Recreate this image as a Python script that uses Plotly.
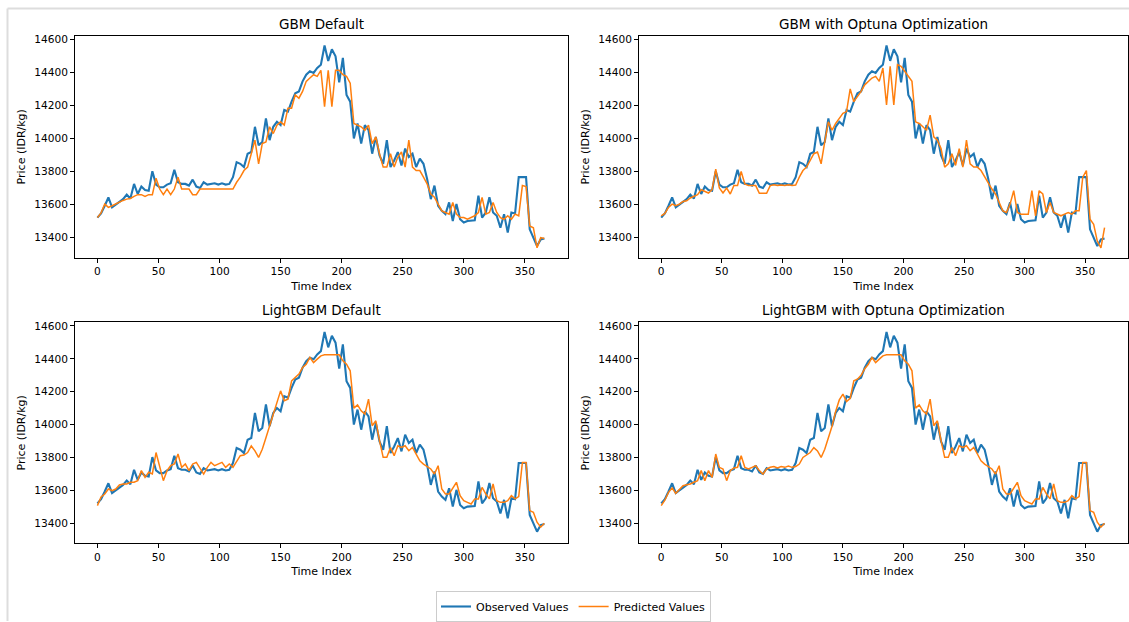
import plotly.graph_objects as go
from plotly.subplots import make_subplots

# ---------------- data ----------------
TIME_INDEX = list(range(0, 367, 3))

OBSERVED = [
    13521, 13546, 13593, 13643, 13583, 13600, 13619, 13633, 13660, 13637,
    13725, 13664, 13709, 13688, 13684, 13802, 13721, 13705, 13705, 13721,
    13729, 13810, 13735, 13725, 13725, 13715, 13751, 13709, 13700, 13735,
    13721, 13725, 13729, 13721, 13729, 13721, 13725, 13766, 13857, 13847,
    13827, 13908, 13918, 14071, 13959, 13979, 14122, 13990, 14071, 14101,
    14081, 14173, 14163, 14223, 14274, 14285, 14346, 14386, 14407, 14397,
    14427, 14447, 14563, 14470, 14540, 14498, 14340, 14488, 14264, 14223,
    14000, 14091, 13969, 14081, 14050, 13908, 14010, 13898, 13847, 13990,
    13827, 13867, 13918, 13837, 13939, 13888, 13908, 13827, 13878, 13847,
    13755, 13633, 13715, 13593, 13562, 13542, 13613, 13501, 13603, 13511,
    13491, 13501, 13501, 13505, 13654, 13521, 13552, 13644, 13552, 13532,
    13460, 13542, 13430, 13552, 13546, 13766, 13766, 13766, 13450, 13399,
    13349, 13389, 13395,
]

PRED_GBM_DEFAULT = [
    13521, 13550, 13603, 13583, 13593, 13605, 13615, 13625, 13633, 13637,
    13650, 13660, 13660, 13650, 13660, 13660, 13760, 13694, 13660, 13694,
    13660, 13694, 13766, 13694, 13694, 13694, 13660, 13660, 13694, 13694,
    13694, 13694, 13694, 13694, 13694, 13694, 13694, 13694, 13735, 13766,
    13806, 13827, 13908, 13990, 13847, 13969, 13979, 14071, 14030, 14081,
    14101, 14081, 14183, 14183, 14264, 14244, 14285, 14346, 14366, 14386,
    14376, 14413, 14193, 14413, 14193, 14413, 14413, 14386, 14376, 14335,
    14091, 14081, 14071, 14050, 14081, 13969, 14010, 13908, 13827, 13827,
    13908, 13827, 13888, 13918, 13827, 13990, 13827, 13806, 13806, 13766,
    13725, 13664, 13644, 13603, 13562, 13552, 13542, 13613, 13542, 13521,
    13521, 13511, 13521, 13532, 13552, 13644, 13542, 13552, 13613, 13552,
    13521, 13511, 13532, 13511, 13542, 13532, 13715, 13709, 13470, 13460,
    13338, 13400, 13395,
]

PRED_GBM_OPTUNA = [
    13531, 13546, 13583, 13603, 13593, 13603, 13619, 13623, 13640, 13650,
    13660, 13690, 13680, 13670, 13690, 13815, 13700, 13670, 13700, 13664,
    13715, 13715, 13800, 13725, 13715, 13715, 13715, 13668, 13668, 13668,
    13715, 13720, 13715, 13718, 13715, 13720, 13715, 13718, 13766, 13806,
    13827, 13867, 13908, 13918, 13847, 13979, 14101, 14050, 14091, 14122,
    14152, 14163, 14300, 14223, 14254, 14285, 14325, 14346, 14366, 14376,
    14346, 14427, 14203, 14437, 14203, 14447, 14437, 14407, 14376, 14346,
    14101, 14091, 14071, 14050, 14142, 14010, 13990, 13939, 13827, 13847,
    13908, 13837, 13939, 13827, 13990, 13847, 13827, 13827, 13806, 13766,
    13725, 13694, 13664, 13613, 13562, 13552, 13603, 13684, 13552, 13542,
    13542, 13542, 13684, 13532, 13684, 13664, 13552, 13613, 13552, 13542,
    13532, 13542, 13552, 13542, 13562, 13562, 13766, 13806, 13511, 13481,
    13379, 13338, 13460,
]

PRED_LGBM_DEFAULT = [
    13507, 13560, 13578, 13608, 13598, 13608, 13633, 13639, 13639, 13649,
    13649, 13659, 13720, 13679, 13710, 13700, 13830, 13740, 13659, 13720,
    13750, 13760, 13821, 13740, 13760, 13720, 13760, 13770, 13730, 13699,
    13740, 13770, 13750, 13760, 13770, 13740, 13760, 13740, 13780, 13811,
    13815, 13830, 13870, 13840, 13800, 13850, 13920, 13990, 14070, 14140,
    14205, 14145, 14155, 14266, 14286, 14307, 14347, 14367, 14408, 14377,
    14398, 14418, 14424, 14424, 14424, 14424, 14424, 14388, 14367, 14327,
    14100, 14120, 14084, 14064, 14155, 13993, 14023, 13902, 13801, 13801,
    13861, 13811, 13871, 13861, 13871, 13841, 13861, 13821, 13780, 13760,
    13744, 13730, 13699, 13750, 13608, 13578, 13578, 13618, 13649, 13568,
    13537, 13527, 13517, 13548, 13548, 13618, 13578, 13548, 13639, 13537,
    13527, 13527, 13537, 13568, 13548, 13562, 13770, 13770, 13477, 13467,
    13406, 13376, 13400,
]

PRED_LGBM_OPTUNA = [
    13507, 13540, 13588, 13614, 13582, 13608, 13628, 13634, 13639, 13649,
    13659, 13720, 13659, 13720, 13679, 13821, 13740, 13730, 13659, 13720,
    13736, 13740, 13811, 13740, 13730, 13740, 13750, 13720, 13699, 13730,
    13740, 13745, 13736, 13745, 13740, 13748, 13740, 13745, 13760, 13800,
    13815, 13830, 13860, 13840, 13800, 13850, 13920, 13990, 14080, 14150,
    14185, 14140, 14160, 14266, 14276, 14300, 14340, 14367, 14408, 14377,
    14398, 14418, 14424, 14424, 14424, 14424, 14424, 14388, 14367, 14327,
    14100, 14120, 14084, 14064, 14155, 13993, 14023, 13902, 13801, 13801,
    13861, 13811, 13871, 13861, 13871, 13841, 13861, 13821, 13780, 13760,
    13744, 13730, 13699, 13750, 13608, 13578, 13578, 13618, 13649, 13568,
    13537, 13527, 13517, 13548, 13548, 13618, 13578, 13548, 13639, 13537,
    13527, 13527, 13537, 13568, 13548, 13562, 13770, 13770, 13477, 13467,
    13406, 13376, 13400,
]

TITLES = [
    "GBM Default",
    "GBM with Optuna Optimization",
    "LightGBM Default",
    "LightGBM with Optuna Optimization",
]
X_TICKS = [0, 50, 100, 150, 200, 250, 300, 350]
Y_TICKS = [13400, 13600, 13800, 14000, 14200, 14400, 14600]

# ---------------- figure ----------------
W, H = 1129, 622
FONT = "DejaVu Sans"
BLUE = "#1f77b4"
ORANGE = "#ff7f0e"
TXT = 11
TICK = 10.6

fig = make_subplots(rows=2, cols=2)

panels = [(1, 1, PRED_GBM_DEFAULT), (1, 2, PRED_GBM_OPTUNA),
          (2, 1, PRED_LGBM_DEFAULT), (2, 2, PRED_LGBM_OPTUNA)]
for k, (r, c, pred) in enumerate(panels):
    fig.add_trace(go.Scatter(x=TIME_INDEX, y=OBSERVED, mode="lines",
                             line=dict(color=BLUE, width=2.1),
                             name="Observed Values", legendgroup="obs",
                             showlegend=(k == 0)), row=r, col=c)
    fig.add_trace(go.Scatter(x=TIME_INDEX, y=pred, mode="lines",
                             line=dict(color=ORANGE, width=1.5),
                             name="Predicted Values", legendgroup="pred",
                             showlegend=(k == 0)), row=r, col=c)

xdom = {1: [75 / W, 568 / W], 2: [639 / W, 1128 / W]}
ydom = {1: [1 - 258 / H, 1 - 36 / H], 2: [1 - 544 / H, 1 - 323 / H]}

axis_common = dict(showline=True, mirror=True, linecolor="black", linewidth=1,
                   ticks="outside", ticklen=4, tickwidth=1, tickcolor="black",
                   showgrid=False, zeroline=False, automargin=False,
                   tickfont=dict(family=FONT, size=TICK, color="black"))

for r in (1, 2):
    for c in (1, 2):
        fig.update_xaxes(domain=xdom[c], range=[-18.35, 385.35], tickvals=X_TICKS,
                         ticktext=[str(v) for v in X_TICKS],
                         title=dict(text="Time Index", standoff=5,
                                    font=dict(family=FONT, size=TXT, color="black")),
                         row=r, col=c, **axis_common)
        fig.update_yaxes(domain=ydom[r], range=[13279, 14621], tickvals=Y_TICKS,
                         ticktext=[str(v) for v in Y_TICKS],
                         title=dict(text="Price (IDR/kg)", standoff=6,
                                    font=dict(family=FONT, size=TXT, color="black")),
                         row=r, col=c, **axis_common)

annotations = []
for k, (r, c, _) in enumerate(panels):
    annotations.append(dict(text=TITLES[k], xref="paper", yref="paper",
                            x=sum(xdom[c]) / 2, y=ydom[r][1], xanchor="center",
                            yanchor="bottom", yshift=2, showarrow=False,
                            font=dict(family=FONT, size=13.5, color="black")))

shapes = [
    dict(type="line", xref="paper", yref="paper", x0=7.5 / W, x1=1,
         y0=1 - 8.5 / H, y1=1 - 8.5 / H, line=dict(color="#dddddd", width=2)),
    dict(type="line", xref="paper", yref="paper", x0=7.5 / W, x1=7.5 / W,
         y0=0, y1=1 - 8.5 / H, line=dict(color="#dddddd", width=2)),
]

fig.update_layout(
    width=W, height=H,
    margin=dict(l=0, r=0, t=0, b=0),
    paper_bgcolor="white", plot_bgcolor="white",
    font=dict(family=FONT, size=TXT, color="black"),
    annotations=annotations, shapes=shapes,
    legend=dict(orientation="h", x=573.5 / W, xanchor="center",
                y=1 - 607.5 / H, yanchor="middle",
                bordercolor="#cccccc", borderwidth=1, bgcolor="white",
                font=dict(family=FONT, size=TXT, color="black")),
)

fig.write_html("out.html", config={"displayModeBar": False},
               post_script="document.body.style.margin='0';")
